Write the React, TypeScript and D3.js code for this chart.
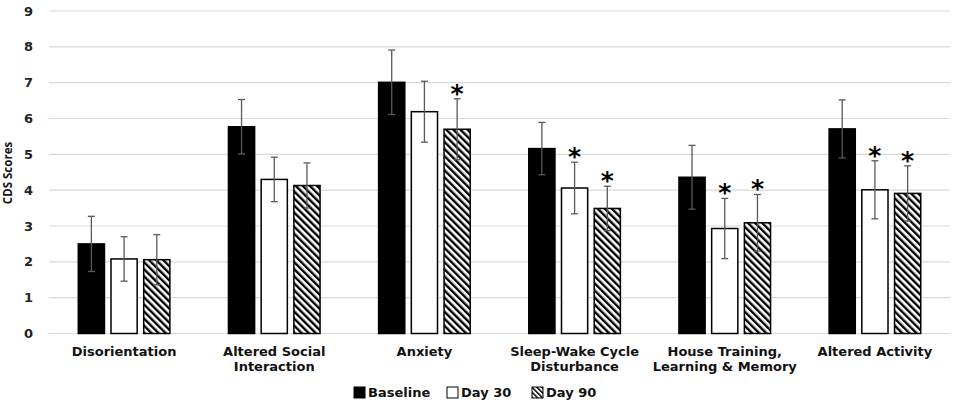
import React from 'react';
import * as d3 from 'd3';

const categories = [
  'Disorientation',
  'Altered Social Interaction',
  'Anxiety',
  'Sleep-Wake Cycle Disturbance',
  'House Training, Learning & Memory',
  'Altered Activity',
];
const categoryLines = [
  ['Disorientation'],
  ['Altered Social', 'Interaction'],
  ['Anxiety'],
  ['Sleep-Wake Cycle', 'Disturbance'],
  ['House Training,', 'Learning & Memory'],
  ['Altered Activity'],
];
const seriesNames = ['Baseline', 'Day 30', 'Day 90'];

const baseline = [2.5, 5.77, 7.01, 5.16, 4.36, 5.71];
const baselineErr = [0.77, 0.76, 0.9, 0.73, 0.89, 0.81];
const day30 = [2.08, 4.3, 6.19, 4.06, 2.93, 4.01];
const day30Err = [0.62, 0.62, 0.85, 0.72, 0.84, 0.81];
const day90 = [2.06, 4.13, 5.7, 3.49, 3.09, 3.91];
const day90Err = [0.7, 0.63, 0.85, 0.62, 0.79, 0.77];

// significant vs baseline
const day30Sig = [false, false, false, true, true, true];
const day90Sig = [false, false, true, true, true, true];

const yTicks = [0, 1, 2, 3, 4, 5, 6, 7, 8, 9];

const W = 957;
const H = 403;
const bold = 'DejaVu Sans, Verdana, sans-serif';

export default function App() {
  const y = d3.scaleLinear().domain([0, 9]).range([333.5, 11]);
  const x0 = d3.scaleBand<string>()
    .domain(categories)
    .range([49, 950])
    .paddingInner(0.39)
    .paddingOuter(0.195);
  const x1 = d3.scaleBand<string>()
    .domain(seriesNames)
    .range([0, x0.bandwidth()])
    .paddingInner(0.2);

  const series = [
    { name: 'Baseline', values: baseline, err: baselineErr, sig: null as boolean[] | null, fill: '#000' },
    { name: 'Day 30', values: day30, err: day30Err, sig: day30Sig, fill: '#fff' },
    { name: 'Day 90', values: day90, err: day90Err, sig: day90Sig, fill: 'url(#hatch)' },
  ];

  const legendItems = [
    { name: 'Baseline', fill: '#000', x: 354 },
    { name: 'Day 30', fill: '#fff', x: 447 },
    { name: 'Day 90', fill: 'url(#hatchSmall)', x: 532 },
  ];

  return (
    <svg width={W} height={H} style={{ position: 'absolute', left: 0, top: 0, background: '#fff' }}>
      <defs>
        <pattern id="hatch" patternUnits="userSpaceOnUse" width={5} height={5} patternTransform="rotate(-45)">
          <rect width={5} height={5} fill="#fff" />
          <line x1={1.2} y1={0} x2={1.2} y2={5} stroke="#000" strokeWidth={2.4} />
        </pattern>
        <pattern id="hatchSmall" patternUnits="userSpaceOnUse" width={3.5} height={3.5} patternTransform="rotate(-45)">
          <rect width={3.5} height={3.5} fill="#fff" />
          <line x1={0.8} y1={0} x2={0.8} y2={3.5} stroke="#000" strokeWidth={1.5} />
        </pattern>
      </defs>

      {/* grid + y ticks */}
      {yTicks.map(t => (
        <g key={t}>
          <line x1={49} x2={950} y1={y(t)} y2={y(t)} stroke="#d9d9d9" strokeWidth={1.2} />
          <text x={33} y={y(t)} dy="0.35em" textAnchor="end" fontFamily={bold} fontWeight="bold" fontSize={13} fill="#222">
            {t}
          </text>
        </g>
      ))}

      <text
        transform={`translate(12,${173}) rotate(-90)`}
        textAnchor="middle"
        fontFamily="Open Sans, sans-serif"
        fontWeight="bold"
        fontSize={11.5}
        fill="#111"
      >
        CDS Scores
      </text>

      {/* bars */}
      {categories.map((c, i) => (
        <g key={c} transform={`translate(${x0(c)},0)`}>
          {series.map(s => {
            const bx = x1(s.name) as number;
            const bw = x1.bandwidth();
            const v = s.values[i];
            const e = s.err[i];
            const cx = bx + bw / 2;
            return (
              <g key={s.name}>
                <rect
                  x={bx}
                  y={y(v)}
                  width={bw}
                  height={y(0) - y(v)}
                  fill={s.fill}
                  stroke="#000"
                  strokeWidth={1.5}
                />
                <line x1={cx} x2={cx} y1={y(v + e)} y2={y(v - e)} stroke="#595959" strokeWidth={1.3} />
                <line x1={cx - 3.5} x2={cx + 3.5} y1={y(v + e)} y2={y(v + e)} stroke="#595959" strokeWidth={1.3} />
                <line x1={cx - 3.5} x2={cx + 3.5} y1={y(v - e)} y2={y(v - e)} stroke="#595959" strokeWidth={1.3} />
                {s.sig && s.sig[i] && (
                  <text x={cx} y={y(v + e) + 3} textAnchor="middle" fontFamily={bold} fontWeight="bold" fontSize={25} fill="#000">
                    *
                  </text>
                )}
              </g>
            );
          })}
        </g>
      ))}

      {/* category labels */}
      {categories.map((c, i) => (
        <text
          key={c}
          x={(x0(c) as number) + x0.bandwidth() / 2}
          y={356}
          textAnchor="middle"
          fontFamily={bold}
          fontWeight="bold"
          fontSize={13}
          fill="#111"
        >
          {categoryLines[i].map((l, k) => (
            <tspan key={k} x={(x0(c) as number) + x0.bandwidth() / 2} dy={k === 0 ? 0 : 15}>
              {l}
            </tspan>
          ))}
        </text>
      ))}

      {/* legend */}
      {legendItems.map(l => (
        <g key={l.name}>
          <rect x={l.x} y={387} width={11} height={11} fill={l.fill} stroke="#000" strokeWidth={1} />
          <text x={l.x + 14} y={392.5} dy="0.35em" fontFamily={bold} fontWeight="bold" fontSize={13} fill="#111">
            {l.name}
          </text>
        </g>
      ))}
    </svg>
  );
}
